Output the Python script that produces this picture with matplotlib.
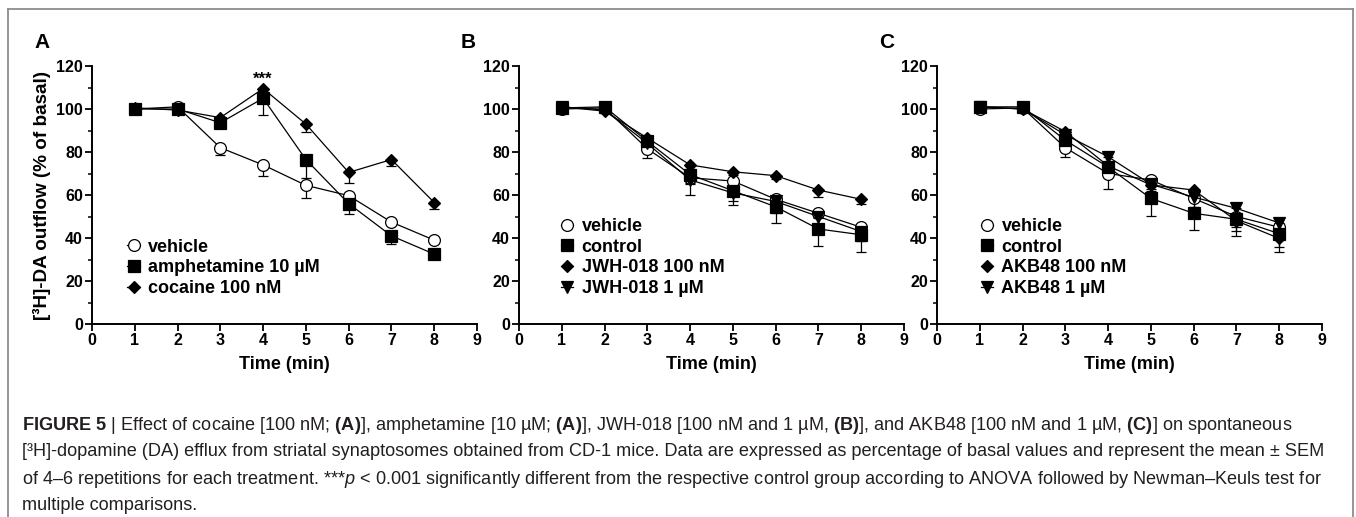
import matplotlib
matplotlib.use("Agg")
import matplotlib.pyplot as plt
from matplotlib import font_manager
from matplotlib.lines import Line2D
from matplotlib.ticker import MultipleLocator

plt.rcParams["font.family"] = ["Liberation Sans", "DejaVu Sans"]

time = [1, 2, 3, 4, 5, 6, 7, 8]

# panel A
a_vehicle = [100, 101, 82, 74, 64.5, 59.7, 47.4, 39]
a_vehicle_sem = [1, 1, 3.3, 5, 6, 1.5, 1.5, 1.5]
a_amph = [100, 100, 93.6, 105, 76.5, 56, 41, 32.5]
a_amph_sem = [1, 1, 1.5, 8, 8.5, 5, 4, 1.5]
a_coca = [100.5, 99.5, 96, 109.5, 93, 70.5, 76.5, 56.5]
a_coca_sem = [1, 1, 1, 1.5, 3.5, 5, 3, 3]

# panel B
b_vehicle = [100, 100.5, 81.5, 68, 66.5, 58, 51.5, 45]
b_vehicle_sem = [1, 1, 4.2, 3, 2, 2, 2, 2]
b_control = [100.5, 101, 85, 69.5, 62, 54.5, 44.2, 41.5]
b_control_sem = [1, 1, 3, 4, 6.5, 7.5, 8, 7.8]
b_jwh100 = [101, 99, 86.5, 74, 70.8, 69, 62.3, 58]
b_jwh100_sem = [1, 1, 1.5, 2, 1.5, 1.5, 3, 2]
b_jwh1 = [101, 99.5, 84, 67, 61, 57, 50, 43]
b_jwh1_sem = [1, 1, 3, 7, 4, 5.5, 5, 4.3]

# panel C
c_vehicle = [100, 100.5, 82, 70, 67, 58.4, 50, 45]
c_vehicle_sem = [1, 1, 4.5, 7.4, 2, 4, 6.6, 2]
c_control = [101, 101, 85.5, 73, 58.4, 51.5, 48.7, 42]
c_control_sem = [1, 1, 3, 4, 8, 8, 7.7, 8.4]
c_akb100 = [101, 100, 89.5, 73.5, 64.7, 62.3, 48, 39.8]
c_akb100_sem = [1, 1, 1.5, 3, 2, 2, 3, 3.8]
c_akb1 = [101, 100, 88, 77.8, 65, 59, 53.8, 47]
c_akb1_sem = [1, 1, 2, 3, 3, 6, 3, 3]

mu = "\u00b5"
panels = [
    ("A", [("vehicle", a_vehicle, a_vehicle_sem, "o"),
           ("amphetamine 10 " + mu + "M", a_amph, a_amph_sem, "s"),
           ("cocaine 100 nM", a_coca, a_coca_sem, "D")]),
    ("B", [("vehicle", b_vehicle, b_vehicle_sem, "o"),
           ("control", b_control, b_control_sem, "s"),
           ("JWH-018 100 nM", b_jwh100, b_jwh100_sem, "D"),
           ("JWH-018 1 " + mu + "M", b_jwh1, b_jwh1_sem, "v")]),
    ("C", [("vehicle", c_vehicle, c_vehicle_sem, "o"),
           ("control", c_control, c_control_sem, "s"),
           ("AKB48 100 nM", c_akb100, c_akb100_sem, "D"),
           ("AKB48 1 " + mu + "M", c_akb1, c_akb1_sem, "v")]),
]

msize = {"o": 8.5, "s": 8.0, "D": 6.6, "v": 8.5}

W, H = 1356, 517
fig = plt.figure(figsize=(W / 100, H / 100), dpi=100)

lefts = [92, 519, 937]
legend_x = [0.068, 0.085, 0.09]
legend_y = [0.07, 0.07, 0.07]

for i, (letter, series) in enumerate(panels):
    ax = fig.add_axes([lefts[i] / W, (H - 324) / H, 385 / W, 258 / H])
    handles = []
    for name, vals, sem, mk in series:
        face = "white" if mk == "o" else "black"
        ax.errorbar(time, vals, yerr=[sem, [0] * len(sem)], fmt="-", color="black",
                    lw=0.9, elinewidth=0.9, capsize=3.5, capthick=0.9,
                    marker=mk, markersize=msize[mk], mfc=face, mec="black", mew=0.9)
        handles.append(Line2D([], [], color="black", lw=0.9, marker=mk,
                              markersize=msize[mk], mfc=face, mec="black", mew=0.9,
                              label=name))
    ax.set_xlim(0, 9)
    ax.set_ylim(0, 120)
    ax.xaxis.set_major_locator(MultipleLocator(1))
    ax.yaxis.set_major_locator(MultipleLocator(20))
    ax.yaxis.set_minor_locator(MultipleLocator(10))
    for s in ["top", "right"]:
        ax.spines[s].set_visible(False)
    for s in ["left", "bottom"]:
        ax.spines[s].set_linewidth(1.4)
    ax.tick_params(which="major", length=5, width=1.3, labelsize=11.5, pad=1.5)
    ax.tick_params(which="minor", length=3, width=1.1)
    for lab in ax.get_xticklabels() + ax.get_yticklabels():
        lab.set_fontweight("bold")
    ax.set_xlabel("Time (min)", fontsize=13, fontweight="bold", labelpad=6)
    ax.legend(handles=handles, loc="lower left", bbox_to_anchor=(legend_x[i], legend_y[i]),
              frameon=False, borderpad=0, handlelength=0.7, handletextpad=0.45,
              labelspacing=0.2, prop={"weight": "bold", "size": 13})
    fig.text((lefts[i] - 58) / W, 1 - 42 / H, letter, fontsize=15, fontweight="bold",
             ha="left", va="center")
    if letter == "A":
        ax.set_ylabel("[\u00b3H]-DA outflow (% of basal)", fontsize=13.6,
                      fontweight="bold", labelpad=4)
        ax.text(4, 114, "***", ha="center", va="center", fontsize=12, fontweight="bold")

# frame round the figure
frame_col = "#8c8c8c"
fig.add_artist(Line2D([8 / W, 8 / W], [0, 1 - 9 / H], transform=fig.transFigure, color=frame_col, lw=1.3))
fig.add_artist(Line2D([8 / W, 1353 / W], [1 - 9 / H, 1 - 9 / H], transform=fig.transFigure, color=frame_col, lw=1.3))
fig.add_artist(Line2D([1353 / W, 1353 / W], [0, 1 - 9 / H], transform=fig.transFigure, color=frame_col, lw=1.3))

# caption
cap_font = "Liberation Sans"
try:
    font_manager.findfont(font_manager.FontProperties(family="Liberation Sans Narrow"),
                          fallback_to_default=False)
    cap_font = "Liberation Sans Narrow"
except Exception:
    pass
plt.rcParams["mathtext.fontset"] = "custom"
plt.rcParams["mathtext.rm"] = cap_font
plt.rcParams["mathtext.it"] = cap_font + ":italic"
plt.rcParams["mathtext.bf"] = cap_font + ":bold"

caption_lines = [
    r"$\mathbf{FIGURE\ 5}$ | Effect of cocaine [100 nM; $\mathbf{(A)}$], amphetamine [10 " + mu
    + r"M; $\mathbf{(A)}$], JWH-018 [100 nM and 1 " + mu + r"M, $\mathbf{(B)}$], and AKB48 [100 nM and 1 "
    + mu + r"M, $\mathbf{(C)}$] on spontaneous",
    "[\u00b3H]-dopamine (DA) efflux from striatal synaptosomes obtained from CD-1 mice. Data are expressed "
    "as percentage of basal values and represent the mean \u00b1 SEM",
    "of 4\u20136 repetitions for each treatment. ***$p$ < 0.001 significantly different from the respective "
    "control group according to ANOVA followed by Newman\u2013Keuls test for",
    "multiple comparisons.",
]
caption_y = [426, 452, 479, 505]

fs = 11
t0 = fig.text(22 / W, 1 - caption_y[0] / H, caption_lines[0], fontsize=fs, family=cap_font,
              color="#231f20", va="center", ha="left")
fig.canvas.draw()
wpx = t0.get_window_extent(fig.canvas.get_renderer()).width
fs = fs * 1274 / wpx
t0.remove()
for line, y in zip(caption_lines, caption_y):
    fig.text(22 / W, 1 - y / H, line, fontsize=fs, family=cap_font, color="#231f20",
             va="center", ha="left")

fig.savefig("out.png", dpi=100)
